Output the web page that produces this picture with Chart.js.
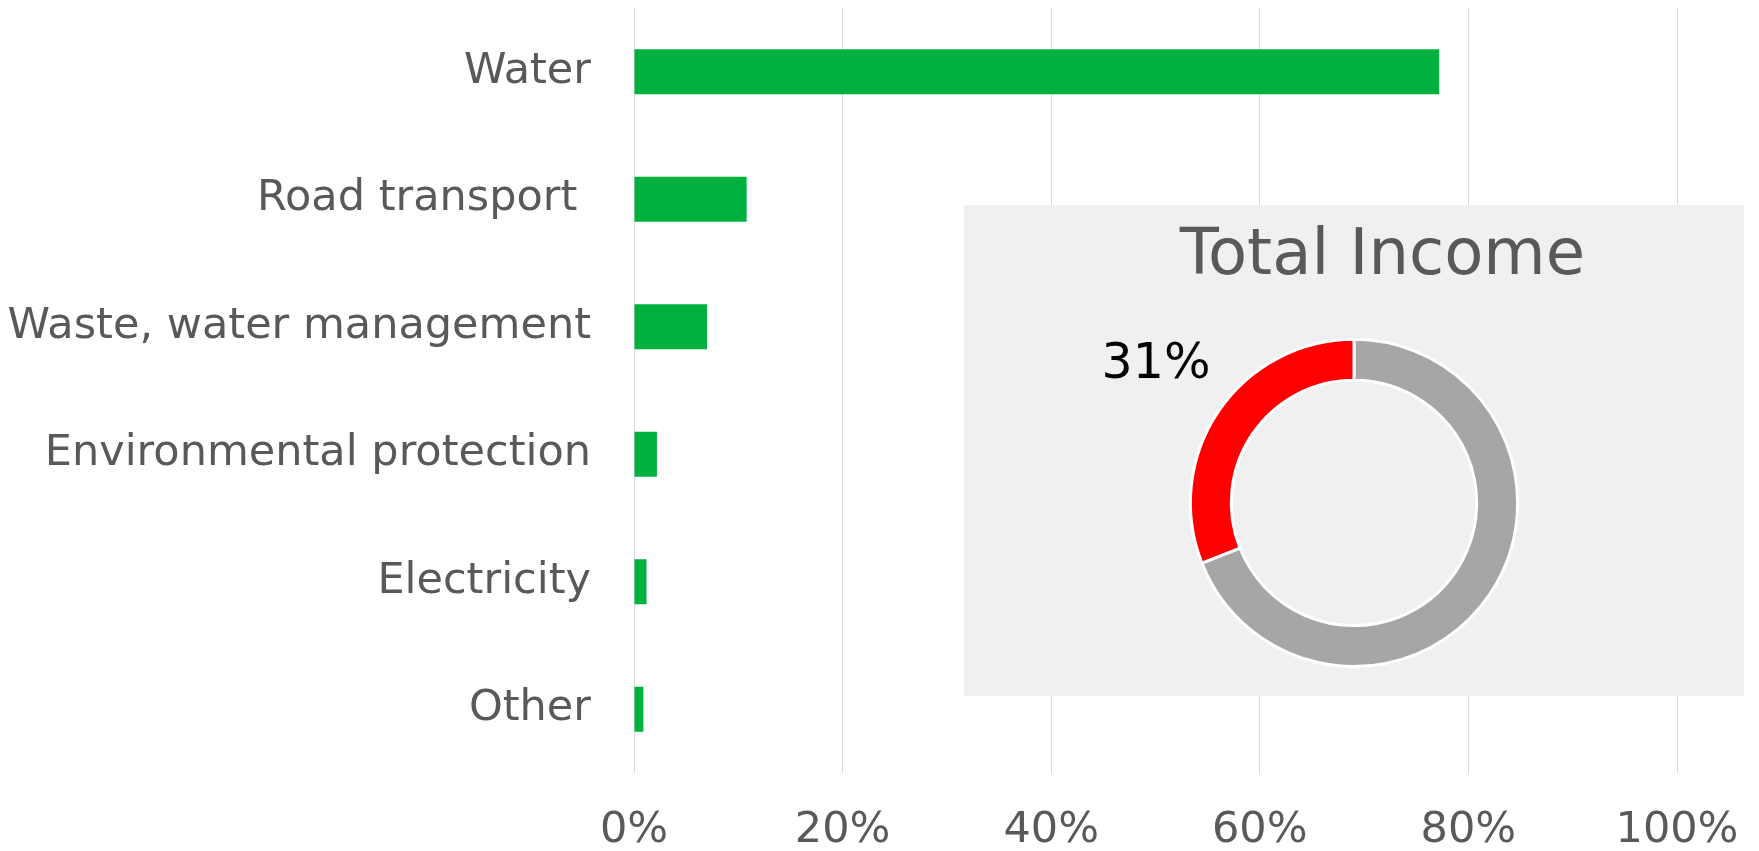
<!DOCTYPE html>
<html>
<head>
<meta charset="utf-8">
<script src="https://cdn.jsdelivr.net/npm/chart.js@4/dist/chart.umd.min.js"></script>
<style>
    body { margin: 0; background: #ffffff; }
    #wrap { position: relative; width: 1759px; height: 851px; }
    #inset { position: absolute; left: 964px; top: 205px; width: 780px; height: 491px; background: #f0f0f0; }
</style>
</head>
<body>
<div id="wrap">
    <canvas id="barCanvas" width="1759" height="851"></canvas>
    <div id="inset"><canvas id="donutCanvas" width="780" height="491"></canvas></div>
</div>
<script>
var sectors = ['Water', 'Road transport ', 'Waste, water management', 'Environmental protection', 'Electricity', 'Other'];
var sectorShare = [77.2, 10.8, 7.0, 2.2, 1.2, 0.9];
var xTicks = [0, 20, 40, 60, 80, 100];

var incomeLabels = ['Rest', 'Total Income'];
var incomeShare = [69, 31];

var textGrey = '#595959';
var fontName = "'DejaVu Sans', Verdana, sans-serif";

// horizontal bars
new Chart(document.getElementById('barCanvas'), {
    type: 'bar',
    data: {
        labels: sectors,
        datasets: [{
            data: sectorShare,
            backgroundColor: '#00B140',
            barPercentage: 0.353,
            categoryPercentage: 1
        }]
    },
    options: {
        indexAxis: 'y',
        responsive: false,
        animation: false,
        layout: { padding: { top: 8, right: 82, left: 0, bottom: 0 } },
        plugins: { legend: { display: false }, tooltip: { enabled: false } },
        scales: {
            x: {
                min: xTicks[0],
                max: xTicks[xTicks.length - 1],
                afterBuildTicks: function (s) { s.ticks = xTicks.map(function (v) { return { value: v }; }); },
                afterFit: function (s) {
                    s.height = 78;
                    s.paddingLeft = 0;
                    s.paddingRight = 0;
                },
                grid: { color: '#d9d9d9', drawTicks: false },
                border: { display: false },
                ticks: {
                    padding: 32,
                    color: textGrey,
                    font: { family: fontName, size: 43 },
                    callback: function (v) { return v + '%'; }
                }
            },
            y: {
                afterFit: function (s) {
                    s.width = 634;
                    s.paddingTop = 0;
                    s.paddingBottom = 0;
                },
                grid: { display: false, drawTicks: false },
                border: { display: false },
                ticks: {
                    padding: 43,
                    color: textGrey,
                    font: { family: fontName, size: 43 }
                }
            }
        }
    }
});

// label outside the red slice
var sliceLabel = {
    id: 'sliceLabel',
    afterDatasetsDraw: function (chart) {
        var arc = chart.getDatasetMeta(0).data[1];
        var mid = (arc.startAngle + arc.endAngle) / 2;
        var r = arc.outerRadius * 1.5;
        var ctx = chart.ctx;
        ctx.save();
        ctx.fillStyle = '#000000';
        ctx.font = '49px ' + fontName;
        ctx.textAlign = 'center';
        ctx.textBaseline = 'middle';
        ctx.fillText(incomeShare[1] + '%', arc.x + Math.cos(mid) * r + 5, arc.y + Math.sin(mid) * r);
        ctx.restore();
    }
};

new Chart(document.getElementById('donutCanvas'), {
    type: 'doughnut',
    data: {
        labels: incomeLabels,
        datasets: [{
            data: incomeShare,
            backgroundColor: ['#A6A6A6', '#FF0000'],
            borderColor: '#ffffff',
            borderWidth: 3
        }]
    },
    options: {
        responsive: false,
        animation: false,
        cutout: '75%',
        layout: { padding: { top: 0, left: 159, right: 159, bottom: 28 } },
        plugins: {
            legend: { display: false },
            tooltip: { enabled: false },
            title: {
                display: true,
                text: 'Total Income',
                align: 'end',
                color: textGrey,
                font: { family: fontName, size: 64, weight: 'normal' },
                padding: { top: 14, bottom: 42 }
            }
        }
    },
    plugins: [sliceLabel]
});
</script>
</body>
</html>
